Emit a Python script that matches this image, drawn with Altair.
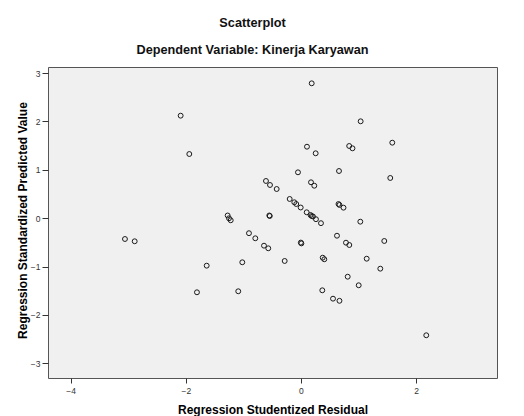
import altair as alt
import pandas as pd

# Regression Studentized Residual (x) and Regression Standardized Predicted Value (y)
residual = [0.186, -2.089, -1.939, 1.036, 1.585, 0.104, 0.255, 0.837, 0.894, -0.052,
            0.660, 1.550, -0.608, -0.538, -0.422, 0.174, 0.231, -0.196, -0.116, -0.082,
            -0.005, 0.099, 0.165, 0.186, 0.208, 0.260, 0.347, 0.651, 0.668, 0.738,
            1.030, -1.273, -1.250, -1.220, -0.550, -0.542, -0.903, -0.793, -0.642, -0.568,
            -0.003, 0.007, 0.625, 0.781, 0.839, 1.446, -3.056, -2.887, -1.637, -1.019,
            -0.283, 0.377, 0.405, 0.811, 1.141, 1.377, 1.002, -1.806, -1.089, 0.370,
            0.556, 0.668, 2.175]
predicted = [2.787, 2.118, 1.326, 2.002, 1.560, 1.477, 1.341, 1.492, 1.444, 0.948,
             0.975, 0.831, 0.769, 0.686, 0.603, 0.742, 0.671, 0.397, 0.329, 0.293,
             0.221, 0.122, 0.066, 0.045, 0.035, -0.021, -0.103, 0.293, 0.273, 0.217,
             -0.072, 0.056, -0.002, -0.043, 0.056, 0.045, -0.310, -0.415, -0.568, -0.622,
             -0.504, -0.521, -0.362, -0.506, -0.554, -0.471, -0.430, -0.477, -0.981, -0.911,
             -0.884, -0.816, -0.849, -1.209, -0.837, -1.043, -1.386, -1.531, -1.510, -1.490,
             -1.663, -1.707, -2.419]

x_ticks = [-4, -2, 0, 2]
y_ticks = [-3, -2, -1, 0, 1, 2, 3]

df = pd.DataFrame({"residual": residual, "predicted": predicted})

FONT = "Liberation Sans"

chart = alt.Chart(df).mark_point(
    shape="circle", filled=False, size=24, strokeWidth=1, color="#1a1a1a", opacity=1
).encode(
    x=alt.X(
        "residual:Q",
        scale=alt.Scale(domain=[-4.392, 3.403], nice=False, zero=False),
        axis=alt.Axis(
            values=x_ticks, title="Regression Studentized Residual", grid=False,
            domain=False, tickSize=5, tickColor="#333333", tickWidth=1,
            labelFontSize=8.5, labelColor="#333333", labelPadding=3,
            titleFontSize=12, titleFontWeight="bold", titleColor="#000000",
            titleBaseline="alphabetic", titleY=35,
        ),
    ),
    y=alt.Y(
        "predicted:Q",
        scale=alt.Scale(domain=[-3.302, 3.124], nice=False, zero=False),
        axis=alt.Axis(
            values=y_ticks, title="Regression Standardized Predicted Value", grid=False,
            domain=False, tickSize=6, tickColor="#333333", tickWidth=1,
            labelFontSize=8.5, labelColor="#333333", labelPadding=2,
            titleFontSize=12, titleFontWeight="bold", titleColor="#000000",
            titleBaseline="middle", titleAlign="center", titleAngle=-90,
            titleX=-26, titleY=153,
        ),
    ),
).properties(
    width=449,
    height=311,
    title=alt.TitleParams(
        text="Scatterplot",
        subtitle="Dependent Variable: Kinerja Karyawan",
        anchor="middle",
        frame="group",
        dx=-20,
        fontSize=12.7,
        fontWeight="bold",
        color="#111111",
        subtitleFontSize=12.7,
        subtitleFontWeight="bold",
        subtitleColor="#111111",
        subtitlePadding=15,
        offset=10,
        font=FONT,
        subtitleFont=FONT,
    ),
    autosize=alt.AutoSizeParams(type="none"),
    padding={"left": 40, "top": 59, "right": 19, "bottom": 38},
).configure(
    font=FONT, background="white"
).configure_view(
    fill="#f0f0f0", stroke="#555555", strokeWidth=1
)

chart.save("out.html", embed_options={"renderer": "svg", "actions": False})
